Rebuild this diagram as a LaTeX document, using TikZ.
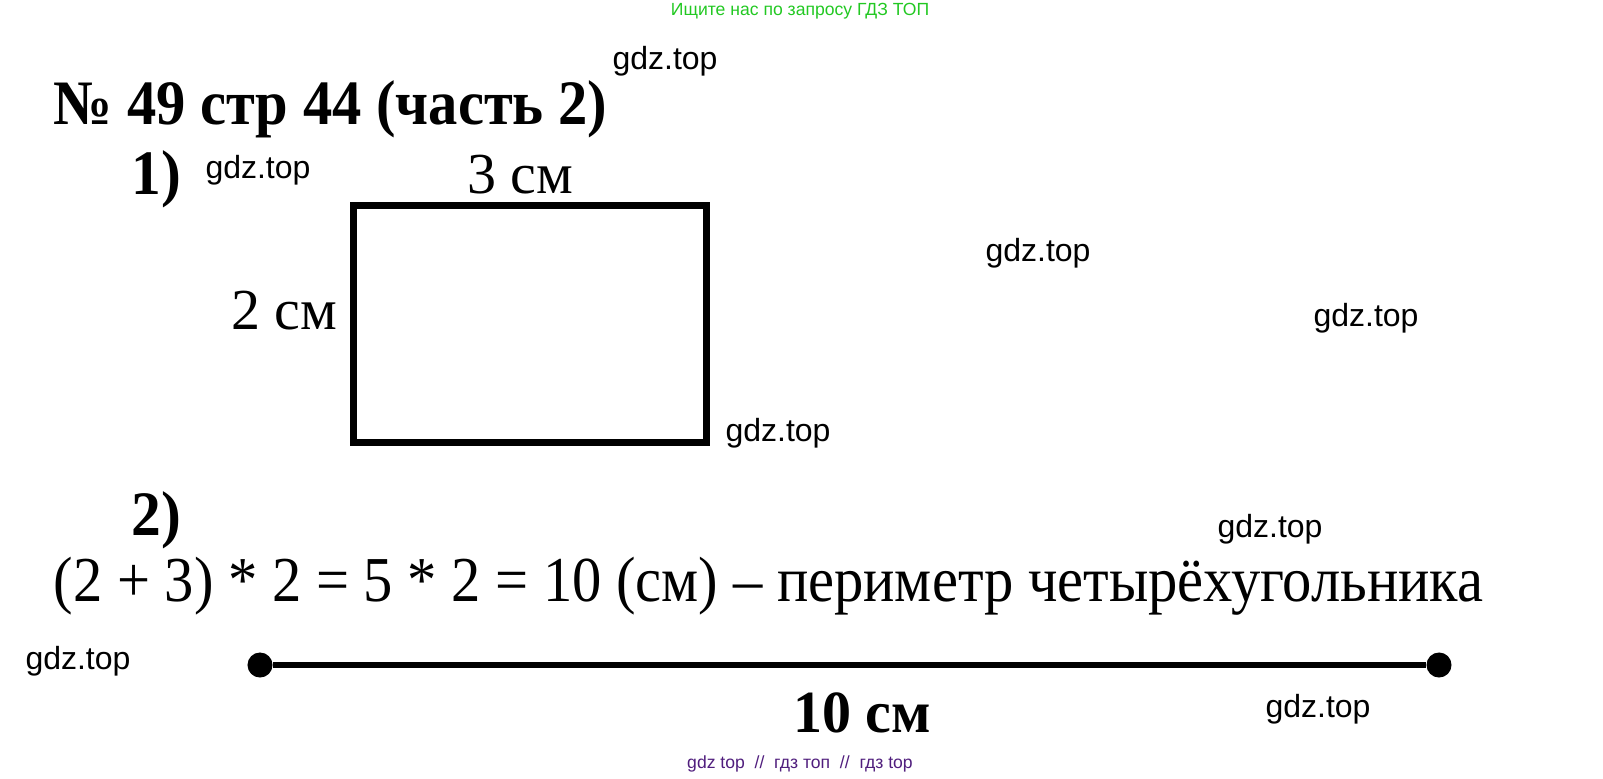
\documentclass[tikz,border=0pt]{standalone}
\usepackage{fontspec}
\setmainfont{Liberation Serif}
\newfontfamily\wmfont{Liberation Sans}
\usepackage{graphicx}
\usepackage{xcolor}
\usepackage{tikz}
\definecolor{topgreen}{RGB}{34,200,34}
\definecolor{footpurple}{RGB}{80,30,125}
\tikzstyle{wmark} = [inner sep=0pt, font=\wmfont\fontsize{9.1}{10}\selectfont]
\tikzstyle{heading} = [inner sep=0pt, anchor=base west, font=\fontsize{18}{20}\selectfont\bfseries]
\tikzstyle{lbl} = [inner sep=0pt, anchor=base, font=\fontsize{16.5}{18}\selectfont]
\tikzstyle{dot} = [circle, fill=black, inner sep=0pt, minimum size=0.25cm]
\tikzstyle{segment} = [line width=1.8pt]

\begin{document}
\begin{tikzpicture}[x=0.01cm, y=-0.01cm]
        \useasboundingbox (0,0) rectangle (1603,779);
        \node (top) [inner sep=0pt, text=topgreen, font=\wmfont\fontsize{5}{6}\selectfont] at (800,11) {Ищите нас по запросу ГДЗ ТОП};
        \node (title) [heading] at (53,125) {\scalebox{0.925}[1]{№ 49 стр 44 (часть 2)}};
        \node (one) [heading] at (131,195) {\scalebox{0.94}[1]{1)}};
        \node (quad) [draw, line width=2pt, minimum width=3.53cm, minimum height=2.36cm] at (530,324) {};
        \node (len) [lbl] at (520,194) {3 см};
        \node (wid) [lbl] at (284,329) {2 см};
        \node (two) [heading] at (131,535) {\scalebox{0.94}[1]{2)}};
        \node (calc) [inner sep=0pt, anchor=base west, font=\fontsize{18.2}{20}\selectfont] at (53,601) {\scalebox{0.915}[1]{(2 + 3) * 2 = 5 * 2 = 10 (см) – периметр четырёхугольника}};
        \node (a) [dot] at (260,665) {};
        \node (b) [dot] at (1439,665) {};
        \draw [segment] (a) -- (b);
        \node (ten) [lbl, font=\fontsize{17}{18}\selectfont\bfseries] at (862,732) {\scalebox{0.97}[1]{10 см}};
        \node (foot) [inner sep=0pt, text=footpurple, font=\wmfont\fontsize{5}{6}\selectfont] at (800,764) {gdz top \ // \ гдз топ \ // \ гдз top};

        % watermarks
        \node (w1) [wmark] at (665,61) {gdz.top};
        \node (w2) [wmark] at (258,170) {gdz.top};
        \node (w3) [wmark] at (1038,253) {gdz.top};
        \node (w4) [wmark] at (1366,318) {gdz.top};
        \node (w5) [wmark] at (778,433) {gdz.top};
        \node (w6) [wmark] at (1270,529) {gdz.top};
        \node (w7) [wmark] at (78,661) {gdz.top};
        \node (w8) [wmark] at (1318,709) {gdz.top};
    \end{tikzpicture}
\end{document}
